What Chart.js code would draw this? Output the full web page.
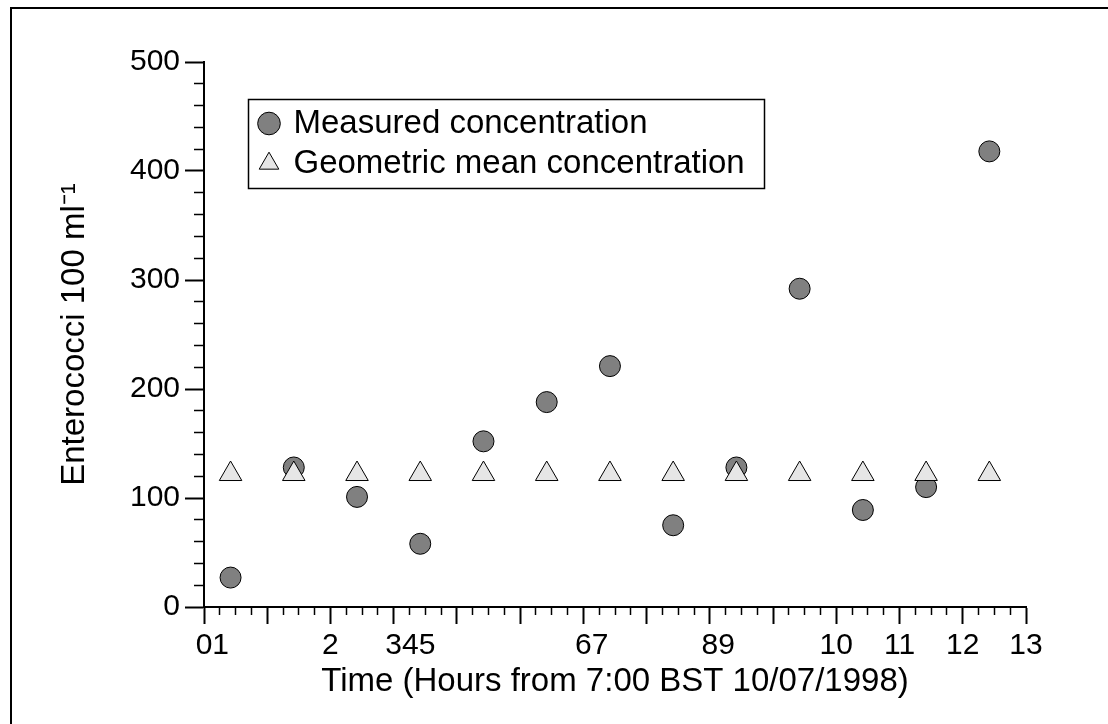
<!DOCTYPE html>
<html lang="en">
<head>
    <meta charset="UTF-8">
    <title>Enterococci concentration</title>
    <script src="https://cdn.jsdelivr.net/npm/chart.js"></script>
    <style>
        body {
            margin: 0;
            background: #fff;
            overflow: hidden;
        }
        .wrap {
            position: relative;
            width: 1108px;
            height: 724px;
        }
        .frame {
            position: absolute;
            left: 10px;
            top: 7px;
            width: 1200px;
            height: 800px;
            border-top: 2px solid #000;
            border-left: 2px solid #000;
            pointer-events: none;
        }
    </style>
</head>
<body>
    <div class="wrap">
        <canvas id="chart"></canvas>
        <div class="frame"></div>
    </div>
    <script>
        // hours after 7:00, one sample per hour
        const hours = [0.42, 1.42, 2.42, 3.42, 4.42, 5.42, 6.42, 7.42, 8.42, 9.42, 10.42, 11.42, 12.42];
        const measured = [27, 128, 101, 58, 152, 188, 221, 75, 128, 292, 89, 110, 418];
        const geoMean = [122, 122, 122, 122, 122, 122, 122, 122, 122, 122, 122, 122, 122];
        // labels as printed under the integer ticks 0..13
        const xTickLabels = ['01', '', '2', '345', '', '', '67', '', '89', '', '10', '11', '12', '13'];
        const yTicks = [0, 100, 200, 300, 400, 500];

        Chart.defaults.font.family = '"Liberation Sans", Arial, sans-serif';
        Chart.defaults.color = '#000';

        // squashed labels: keep the first digit on the tick
        function xLabel(v) {
            if (!Number.isInteger(v)) return '';
            let s = xTickLabels[v] || '';
            if (v < 10 && s.length > 1) s = '\u2007'.repeat(s.length - 1) + s;
            return s;
        }

        // legend sits inside the plot, framed
        const legendBox = {
            id: 'legendBox',
            afterLayout(chart) {
                chart.legend.left = chart.chartArea.left + 50;
                chart.legend.top = chart.chartArea.top + 38;
            },
            afterDraw(chart) {
                const ctx = chart.ctx;
                ctx.save();
                ctx.strokeStyle = '#000';
                ctx.lineWidth = 1.5;
                ctx.strokeRect(248.5, 99.5, 516, 89);
                ctx.restore();
            }
        };

        new Chart(document.getElementById('chart'), {
            type: 'scatter',
            data: {
                datasets: [
                    {
                        label: 'Measured concentration',
                        data: hours.map((x, i) => ({ x: x, y: measured[i] })),
                        pointStyle: 'circle',
                        pointRadius: 10.5,
                        pointHoverRadius: 10.5,
                        backgroundColor: '#808080',
                        borderColor: '#000',
                        borderWidth: 1,
                        order: 2
                    },
                    {
                        label: 'Geometric mean concentration',
                        data: hours.map((x, i) => ({ x: x, y: geoMean[i] })),
                        pointStyle: 'triangle',
                        pointRadius: 13,
                        pointHoverRadius: 13,
                        backgroundColor: '#e6e6e6',
                        borderColor: '#000',
                        borderWidth: 1,
                        order: 1
                    }
                ]
            },
            options: {
                responsive: true,
                maintainAspectRatio: false,
                animation: false,
                events: [],
                layout: { padding: { left: 0, top: 62, right: 82, bottom: 0 } },
                scales: {
                    x: {
                        type: 'linear',
                        min: 0,
                        max: 13,
                        afterFit: s => { s.height = 117; },
                        border: { display: true, color: '#000', width: 2 },
                        grid: {
                            drawOnChartArea: false,
                            tickLength: 17,
                            tickColor: '#000',
                            tickWidth: c => Number.isInteger(c.tick.value) ? 2 : 1.5,
                            tickBorderDash: c => Number.isInteger(c.tick.value) ? [] : [7, 40]
                        },
                        ticks: {
                            stepSize: 0.25,
                            autoSkip: false,
                            maxTicksLimit: 100,
                            maxRotation: 0,
                            minRotation: 0,
                            padding: 4,
                            font: { size: 30 },
                            callback: v => xLabel(v)
                        },
                        title: {
                            display: true,
                            text: 'Time (Hours from 7:00 BST 10/07/1998)',
                            font: { size: 33 },
                            padding: { top: 0, bottom: 22 }
                        }
                    },
                    y: {
                        min: 0,
                        max: 500,
                        afterFit: s => { s.width = 204; },
                        border: { display: true, color: '#000', width: 2 },
                        grid: {
                            drawOnChartArea: false,
                            tickLength: 19,
                            tickColor: '#000',
                            tickWidth: c => yTicks.includes(c.tick.value) ? 2 : 1.5,
                            // minor ticks: skip the outer 9px, draw the 10px next to the axis
                            tickBorderDash: c => yTicks.includes(c.tick.value) ? [] : [0, 9, 10, 100]
                        },
                        ticks: {
                            stepSize: 20,
                            autoSkip: false,
                            maxTicksLimit: 100,
                            padding: 5,
                            font: { size: 30 },
                            callback: v => yTicks.includes(v) ? String(v) : ''
                        },
                        title: {
                            display: true,
                            text: 'Enterococci 100 ml\u207B\u00B9',
                            font: { size: 33 },
                            padding: { top: 55, bottom: 0 }
                        }
                    }
                },
                plugins: {
                    tooltip: { enabled: false },
                    legend: {
                        position: 'chartArea',
                        align: 'start',
                        labels: {
                            usePointStyle: true,
                            boxWidth: 16,
                            boxHeight: 16,
                            padding: 7,
                            color: '#000',
                            font: { size: 33 },
                            sort: (a, b) => a.datasetIndex - b.datasetIndex
                        }
                    }
                }
            },
            plugins: [legendBox]
        });
    </script>
</body>
</html>
